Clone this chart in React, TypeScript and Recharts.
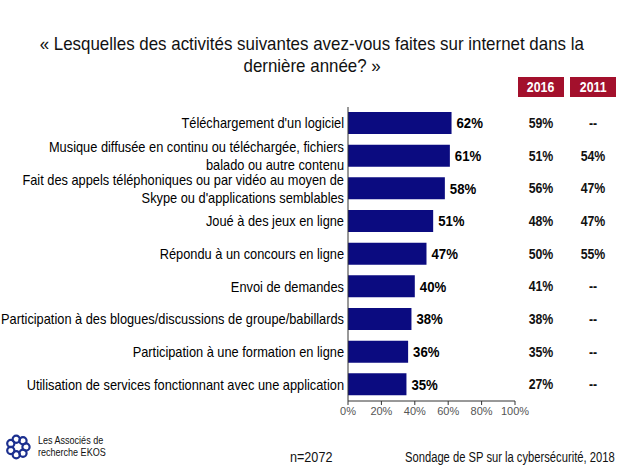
import React from "react";
import { Bar, BarChart, XAxis, YAxis, LabelList } from "recharts";

const categories = [
  "Téléchargement d'un logiciel",
  "Musique diffusée en continu ou téléchargée, fichiers\nbalado ou autre contenu",
  "Fait des appels téléphoniques ou par vidéo au moyen de\nSkype ou d'applications semblables",
  "Joué à des jeux en ligne",
  "Répondu à un concours en ligne",
  "Envoi de demandes",
  "Participation à des blogues/discussions de groupe/babillards",
  "Participation à une formation en ligne",
  "Utilisation de services fonctionnant avec une application",
];
const current = [62, 61, 58, 51, 47, 40, 38, 36, 35];
const col2016 = [59, 51, 56, 48, 50, 41, 38, 35, 27];
const col2011: (number | null)[] = [null, 54, 47, 47, 55, null, null, null, null];
const xTicks = [0, 20, 40, 60, 80, 100];
const columnYears = ["2016", "2011"];

const data = categories.map((label, i) => ({
  label,
  value: current[i],
  y2016: col2016[i],
  y2011: col2011[i],
}));

// no narrow font available, so squeeze Liberation Sans horizontally
const FONT = "'Liberation Sans', Arial, sans-serif";
const BAR_COLOR = "#0b0b80";
const RED = "#a3102c";
const SQ = 0.915;

const CategoryTick = ({ x, y, payload }: any) => {
  const lines = String(payload.value).split("\n");
  const lh = 18;
  const start = y - ((lines.length - 1) * lh) / 2;
  return (
    <text
      transform={`translate(${x} ${start}) scale(${SQ} 1)`}
      textAnchor="end"
      fontSize={14}
      fill="#000"
      fontFamily={FONT}
    >
      {lines.map((l, i) => (
        <tspan key={i} x={0} y={i * lh} dy="0.35em">
          {l}
        </tspan>
      ))}
    </text>
  );
};

const valueLabel = (props: any) => {
  const { x, y, width, height, value } = props;
  return (
    <text
      transform={`translate(${x + width + 5} ${y + height / 2}) scale(0.88 1)`}
      dy="0.36em"
      fontSize={15}
      fontWeight="bold"
      fill="#000"
      fontFamily={FONT}
    >
      {`${value}%`}
    </text>
  );
};

// side columns: x is fixed per column, y follows the bar band
const columnLabel = (colX: number) => (props: any) => {
  const { y, height, value } = props;
  const txt = value == null ? "--" : `${value}%`;
  return (
    <text
      transform={`translate(${colX} ${y + height / 2}) scale(0.88 1)`}
      dy="0.35em"
      textAnchor="middle"
      fontSize={14}
      fontWeight="bold"
      fill="#111"
      fontFamily={FONT}
    >
      {txt}
    </text>
  );
};

const Logo = () => (
  <svg width={28} height={28} viewBox="-14 -14 28 28">
    {[0, 1, 2, 3, 4, 5, 6].map((i) => {
      const a = (i / 7) * Math.PI * 2;
      const cx = Math.cos(a) * 8;
      const cy = Math.sin(a) * 8;
      return (
        <circle key={i} cx={cx} cy={cy} r={3.6} fill="none" stroke="#1b2f8f" strokeWidth={2.2} />
      );
    })}
  </svg>
);

const squeeze = (s: number, origin: string): React.CSSProperties => ({
  display: "inline-block",
  whiteSpace: "nowrap",
  transform: `scaleX(${s})`,
  transformOrigin: origin,
});

export default function App() {
  return (
    <div
      style={{
        position: "absolute",
        left: 0,
        top: 0,
        width: 624,
        height: 468,
        background: "#fff",
        fontFamily: FONT,
        overflow: "hidden",
      }}
    >
      <div
        style={{
          position: "absolute",
          top: 33,
          left: 0,
          width: 624,
          textAlign: "center",
          fontSize: 19,
          lineHeight: "22px",
          color: "#111",
        }}
      >
        <span style={squeeze(0.89, "center")}>
          « Lesquelles des activités suivantes avez-vous faites sur internet dans la
        </span>
        <br />
        <span style={squeeze(0.89, "center")}>dernière année? »</span>
      </div>

      {columnYears.map((yr, i) => (
        <div
          key={yr}
          style={{
            position: "absolute",
            left: 518 + i * 52,
            top: 77,
            width: 46,
            height: 20,
            background: RED,
            color: "#fff",
            fontWeight: "bold",
            fontSize: 14,
            lineHeight: "20px",
            textAlign: "center",
          }}
        >
          <span style={squeeze(0.88, "center")}>{yr}</span>
        </div>
      ))}

      <BarChart
        width={624}
        height={468}
        data={data}
        layout="vertical"
        margin={{ top: 107, right: 109, bottom: 37, left: 0 }}
        barSize={22}
      >
        <XAxis
          type="number"
          domain={[0, 100]}
          ticks={xTicks}
          tickFormatter={(v) => `${v}%`}
          axisLine={{ stroke: "#333" }}
          tickLine={{ stroke: "#333" }}
          tickSize={4}
          height={30}
          tick={{ fontSize: 11, fill: "#555", fontFamily: FONT }}
          interval={0}
        />
        <YAxis
          type="category"
          dataKey="label"
          width={348}
          axisLine={{ stroke: "#333" }}
          tickLine={false}
          tickSize={4}
          tickMargin={0}
          tick={<CategoryTick />}
          interval={0}
        />
        <Bar dataKey="value" fill={BAR_COLOR} isAnimationActive={false}>
          <LabelList dataKey="value" content={valueLabel} />
          <LabelList dataKey="y2016" content={columnLabel(541)} />
          <LabelList dataKey="y2011" content={columnLabel(593)} />
        </Bar>
      </BarChart>

      <div style={{ position: "absolute", left: 4, top: 433 }}>
        <Logo />
      </div>
      <div
        style={{
          position: "absolute",
          left: 38,
          top: 434,
          fontSize: 11,
          lineHeight: "12px",
          color: "#111",
        }}
      >
        <span style={squeeze(0.82, "left")}>Les Associés de</span>
        <br />
        <span style={squeeze(0.82, "left")}>recherche EKOS</span>
      </div>
      <div style={{ position: "absolute", left: 290, top: 449, fontSize: 14, color: "#111" }}>
        <span style={squeeze(0.9, "left")}>n=2072</span>
      </div>
      <div style={{ position: "absolute", left: 405, top: 449, fontSize: 14, color: "#111" }}>
        <span style={squeeze(0.8, "left")}>Sondage de SP sur la cybersécurité, 2018</span>
      </div>
    </div>
  );
}
